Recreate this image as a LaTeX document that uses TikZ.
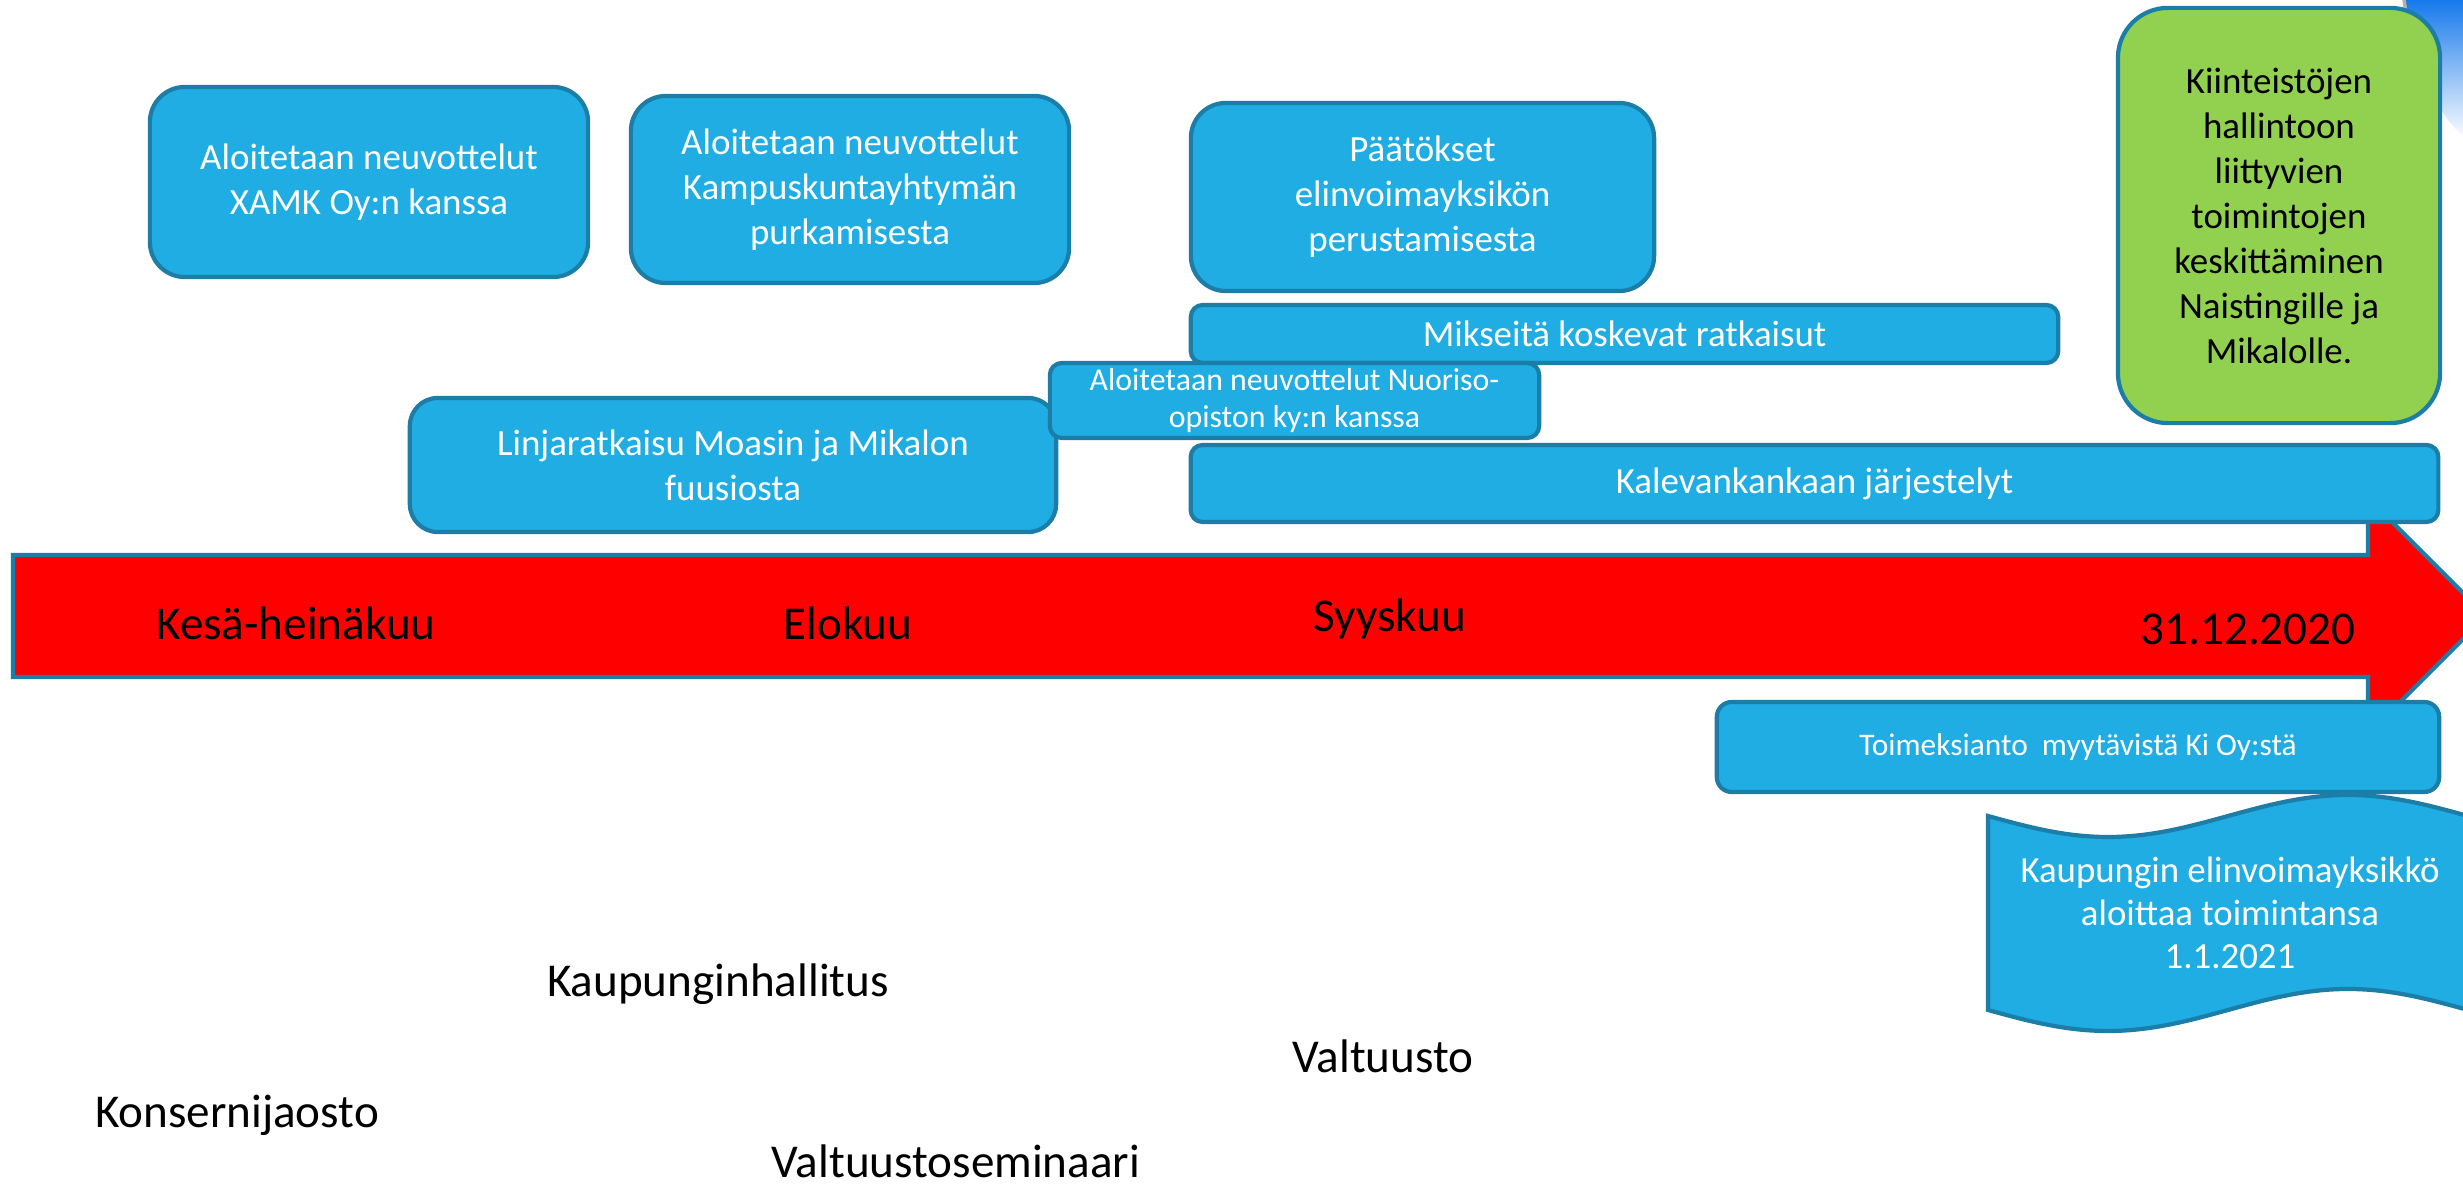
\documentclass[tikz,border=0pt]{standalone}
\usepackage{fontspec}
\setmainfont{Carlito}
\usepackage{tikz}
\definecolor{boxfill}{HTML}{1FADE3}
\definecolor{boxline}{HTML}{1C7DA6}
\definecolor{leaf}{HTML}{92D050}
\tikzstyle{bigbox} = [rectangle, rounded corners=0.35cm, draw=boxline, line width=1.2pt, fill=boxfill, text=white, align=center, inner sep=0pt, font=\fontsize{10.5pt}{12.8pt}\selectfont]
\tikzstyle{bar} = [bigbox, rounded corners=0.12cm]
\tikzstyle{greenbox} = [bigbox, rounded corners=0.5cm, fill=leaf, text=black]
\tikzstyle{month} = [anchor=base, inner sep=0pt, font=\fontsize{13.4pt}{16pt}\selectfont]
\tikzstyle{organ} = [month]
\tikzstyle{timeline} = [draw=boxline, line width=1.2pt, fill=red]

\begin{document}
\begin{tikzpicture}[x=0.01cm, y=-0.01cm]
\useasboundingbox (0,0) rectangle (2463,1186);
\clip (0,0) rectangle (2463,1186);

% corner decoration
\shade [top color=boxfill!70!blue, bottom color=white] (2405,0) -- (2470,0) -- (2470,140) .. controls (2440,125) and (2412,60) .. (2405,0) -- cycle;
\draw [gray!60, line width=1pt] (2404,0) -- (2407,20);

% timeline
\draw [timeline] (13,555) -- (2368,555) -- (2368,498) -- (2486,616) -- (2368,734) -- (2368,677) -- (13,677) -- cycle;
\node (kesa) [month] at (296,640) {Kesä-heinäkuu};
\node (elokuu) [month] at (848,640) {Elokuu};
\node (syyskuu) [month] at (1390,632) {Syyskuu};
\node (vuodenloppu) [month] at (2248,645) {31.12.2020};

% boxes above the timeline
\node (xamk) [bigbox, minimum width=4.38cm, minimum height=1.90cm] at (369,182) {Aloitetaan neuvottelut\\XAMK Oy:n kanssa};
\node (kampus) [bigbox, minimum width=4.38cm, minimum height=1.87cm] at (850,189.5) {Aloitetaan neuvottelut\\Kampuskuntayhtymän\\purkamisesta};
\node (paatokset) [bigbox, minimum width=4.63cm, minimum height=1.88cm] at (1422.5,197) {Päätökset\\elinvoimayksikön\\perustamisesta};
\node (kiinteistot) [greenbox, minimum width=3.22cm, minimum height=4.15cm] at (2279,215.5) {Kiinteistöjen\\hallintoon\\liittyvien\\toimintojen\\keskittäminen\\Naistingille ja\\Mikalolle.};
\node (mikseita) [bar, minimum width=8.67cm, minimum height=0.58cm] at (1624.5,334) {Mikseitä koskevat ratkaisut};
\node (linja) [bigbox, rounded corners=0.28cm, minimum width=6.46cm, minimum height=1.34cm] at (733,465) {Linjaratkaisu Moasin ja Mikalon\\fuusiosta};
\node (nuoriso) [bar, minimum width=4.89cm, minimum height=0.75cm, font=\fontsize{9.05pt}{10.5pt}\selectfont] at (1294.5,400.5) {Aloitetaan neuvottelut Nuoriso-\\opiston ky:n kanssa};
\node (kalevan) [bar, minimum width=12.47cm, minimum height=0.77cm] at (1814.5,483.5) {Kalevankankaan järjestelyt};

% below the timeline
\node (toimeksianto) [bar, rounded corners=0.15cm, minimum width=7.22cm, minimum height=0.90cm, font=\fontsize{8.93pt}{10.5pt}\selectfont] at (2078,747) {Toimeksianto\ \ myytävistä Ki Oy:stä};
\draw [draw=boxline, line width=1.2pt, fill=boxfill] (1988,816) sin (2108,837) cos (2228,816) sin (2348,795) cos (2468,816) -- (2468,1010) sin (2348,989) cos (2228,1010) sin (2108,1031) cos (1988,1010) -- cycle;
\node (elinvoima) [align=center, text=white, inner sep=0pt, font=\fontsize{10.47pt}{12.23pt}\selectfont] at (2230,913) {Kaupungin elinvoimayksikkö\\aloittaa toimintansa\\1.1.2021};

% decision makers
\node (khall) [organ] at (718,997) {Kaupunginhallitus};
\node (valtuusto) [organ] at (1383,1073) {Valtuusto};
\node (konserni) [organ] at (237,1128) {Konsernijaosto};
\node (seminaari) [organ] at (956,1178) {Valtuustoseminaari};
\end{tikzpicture}
\end{document}
